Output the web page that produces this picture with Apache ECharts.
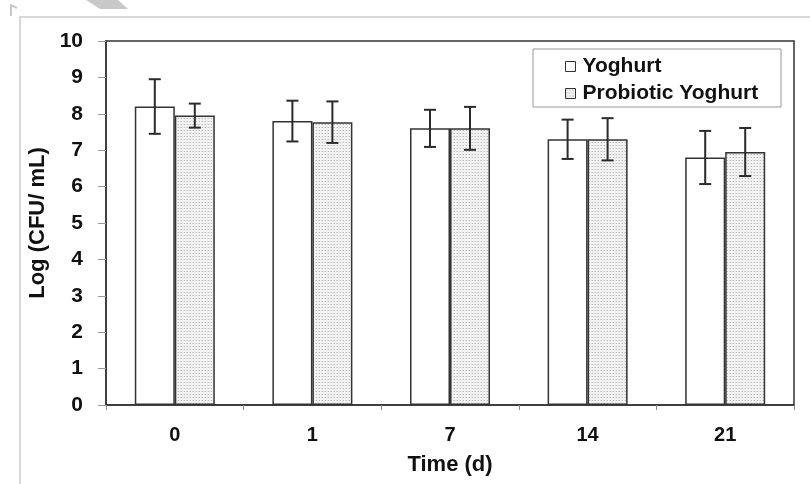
<!DOCTYPE html>
<html><head><meta charset="utf-8">
<script src="https://cdn.jsdelivr.net/npm/echarts@6/dist/echarts.min.js"></script>
<style>html,body{margin:0;padding:0;background:#fff}#c{width:810px;height:484px}</style>
</head><body><div id="c"></div>
<script>
const categories = ['0', '1', '7', '14', '21'];
const yoghurt = [8.2, 7.8, 7.6, 7.3, 6.8];
const yoghurtErr = [0.75, 0.56, 0.51, 0.54, 0.73];
const probiotic = [7.95, 7.77, 7.6, 7.3, 6.95];
const probioticErr = [0.33, 0.57, 0.59, 0.58, 0.66];
const yTicks = [0,1,2,3,4,5,6,7,8,9,10];

// dotted fill pattern
const pc = document.createElement('canvas');
pc.width = 3; pc.height = 3;
const px = pc.getContext('2d');
px.fillStyle = '#f2f2f2'; px.fillRect(0,0,3,3);
px.fillStyle = '#bdbdbd'; px.fillRect(1,1,1,1);
px.fillStyle = '#dcdcdc'; px.fillRect(0,1,1,1);

const chart = echarts.init(document.getElementById('c'));
const BW = 40;
function errSeries(vals, errs, offset) {
  return {
    type: 'custom',
    data: vals.map((v, i) => [i, v - errs[i], v + errs[i]]),
    z: 5,
    silent: true,
    renderItem: function (params, api) {
      const lo = api.coord([api.value(0), api.value(1)]);
      const hi = api.coord([api.value(0), api.value(2)]);
      const x = lo[0] + offset;
      const cap = 6;
      const st = { stroke: '#2b2b2b', lineWidth: 2 };
      return { type: 'group', children: [
        { type: 'line', shape: { x1: x, y1: lo[1], x2: x, y2: hi[1] }, style: st },
        { type: 'line', shape: { x1: x - cap, y1: lo[1], x2: x + cap, y2: lo[1] }, style: st },
        { type: 'line', shape: { x1: x - cap, y1: hi[1], x2: x + cap, y2: hi[1] }, style: st }
      ]};
    }
  };
}
const F = '"Liberation Sans", Arial, sans-serif';
chart.setOption({
  animation: false,
  grid: { left: 106, top: 41, right: 16, bottom: 79, show: true, borderColor: '#333', borderWidth: 1.5, backgroundColor: 'transparent' },
  legend: {
    orient: 'vertical', left: 560, top: 51, itemGap: 6, itemWidth: 10, itemHeight: 10,
    icon: 'rect',
    itemStyle: { borderColor: '#333', borderWidth: 1 },
    textStyle: { fontFamily: F, fontWeight: 'bold', fontSize: 21, lineHeight: 20, color: '#111', padding: [0,0,0,2] },
    data: ['Yoghurt', 'Probiotic Yoghurt']
  },
  xAxis: {
    type: 'category', data: categories,
    name: 'Time (d)', nameLocation: 'middle', nameGap: 49,
    nameTextStyle: { fontFamily: F, fontWeight: 'bold', fontSize: 22, color: '#111' },
    axisLine: { lineStyle: { color: '#333', width: 1.5 } },
    axisTick: { show: true, length: 5, lineStyle: { color: '#888' } },
    axisLabel: { margin: 20, fontFamily: F, fontWeight: 'bold', fontSize: 20, color: '#111' }
  },
  yAxis: {
    type: 'value', min: 0, max: 10, interval: 1,
    name: 'Log (CFU/ mL)', nameLocation: 'middle', nameGap: 41,
    nameTextStyle: { fontFamily: F, fontWeight: 'bold', fontSize: 22, color: '#111' },
    axisLine: { show: true, lineStyle: { color: '#333', width: 1.5 } },
    axisTick: { show: true, length: 8, lineStyle: { color: '#999' } },
    splitLine: { show: false },
    axisLabel: { margin: 23, fontFamily: F, fontWeight: 'bold', fontSize: 21, color: '#111',
      formatter: v => yTicks.includes(v) ? String(v) : '' }
  },
  series: [
    { name: 'Yoghurt', type: 'bar', data: yoghurt, barWidth: BW, barGap: '0%',
      itemStyle: { color: '#fff', borderColor: '#333', borderWidth: 1.5 } },
    { name: 'Probiotic Yoghurt', type: 'bar', data: probiotic, barWidth: BW, barGap: '0%',
      itemStyle: { color: { image: pc, repeat: 'repeat' }, borderColor: '#333', borderWidth: 1.5 } },
    errSeries(yoghurt, yoghurtErr, -BW / 2),
    errSeries(probiotic, probioticErr, BW / 2)
  ],
  graphic: [
    { type: 'rect', shape: { x: 20, y: 17, width: 820, height: 500 }, style: { fill: 'none', stroke: '#d8d8d8', lineWidth: 2 }, z: -10 },
    { type: 'rect', shape: { x: 533, y: 49, width: 248, height: 58 }, style: { fill: '#fff', stroke: '#999', lineWidth: 1 }, z: -1 },
    { type: 'polygon', shape: { points: [[86,0],[118,0],[128,9],[100,9]] }, style: { fill: '#c8c8c8' }, z: -10 },
    { type: 'polyline', shape: { points: [[11,16],[11,5],[17,8]] }, style: { stroke: '#c8c8c8', lineWidth: 2, fill: 'none' }, z: -10 }
  ]
});
</script></body></html>
